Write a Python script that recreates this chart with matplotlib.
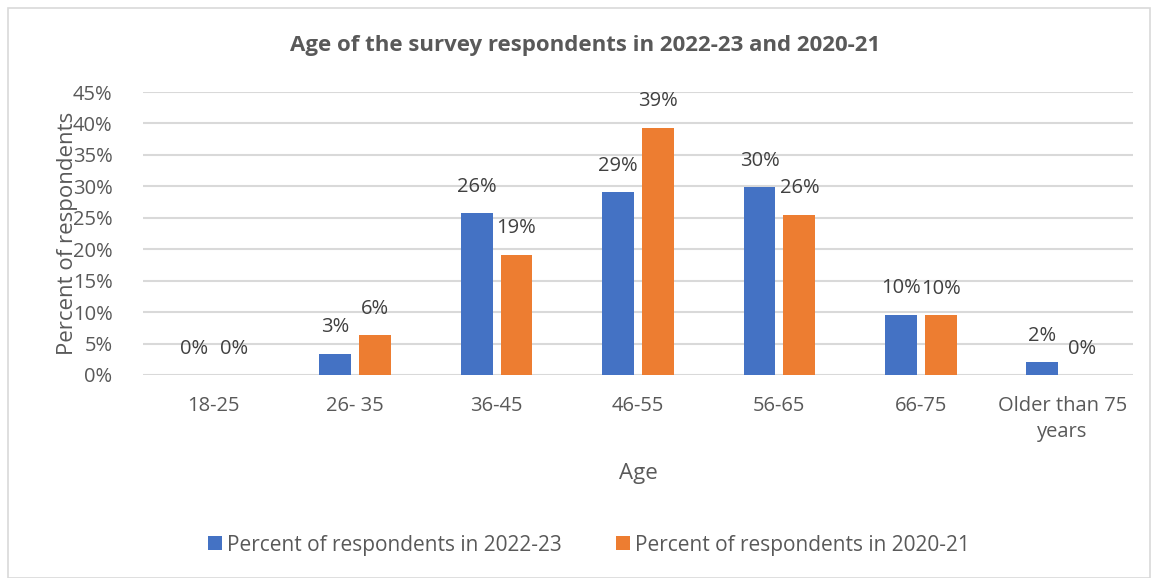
import matplotlib.pyplot as plt
import numpy as np
from matplotlib.patches import Rectangle

# Age groups and survey shares (fractions)
categories = ['18-25', '26- 35', '36-45', '46-55', '56-65', '66-75', 'Older than 75\nyears']
pct_2022 = [0.0, 0.034, 0.257, 0.291, 0.299, 0.096, 0.020]
pct_2020 = [0.0, 0.063, 0.191, 0.393, 0.255, 0.095, 0.0]
series_names = ['Percent of respondents in 2022-23', 'Percent of respondents in 2020-21']
yticks = [0, 0.05, 0.10, 0.15, 0.20, 0.25, 0.30, 0.35, 0.40, 0.45]

blue = '#4472C4'
orange = '#ED7D31'
text_col = '#595959'
label_col = '#404040'

plt.rcParams['font.family'] = ['Open Sans', 'DejaVu Sans']

fig = plt.figure(figsize=(11.61, 5.78), dpi=100)
fig.patches.append(Rectangle((8 / 1161, 0), 1142 / 1161, 570 / 578, transform=fig.transFigure,
                             fill=False, edgecolor='#d9d9d9', linewidth=1.2))

ax = fig.add_axes([143 / 1161, 1 - 375 / 578, 990 / 1161, 283 / 578])

x = np.arange(len(categories))
w = 0.226
off = 0.141
b1 = ax.bar(x - off, pct_2022, w, color=blue, label=series_names[0], zorder=3)
b2 = ax.bar(x + off, pct_2020, w, color=orange, label=series_names[1], zorder=3)

for bars, vals in [(b1, pct_2022), (b2, pct_2020)]:
    for bar, v in zip(bars, vals):
        ax.annotate(f'{v * 100:.0f}%', (bar.get_x() + bar.get_width() / 2, v),
                    xytext=(0, 19), textcoords='offset points', ha='center', va='center',
                    fontsize=14.5, color=label_col)

ax.set_xlim(-0.5, len(categories) - 0.5)
ax.set_ylim(0, 0.45)
ax.set_yticks(yticks)
ax.set_yticklabels([f'{t * 100:.0f}%' for t in yticks])
ax.set_xticks(x)
ax.set_xticklabels(categories, linespacing=1.4)
ax.tick_params(axis='both', length=0, labelsize=14.5, labelcolor=text_col)
ax.tick_params(axis='x', pad=15)
ax.tick_params(axis='y', pad=22)
ax.grid(axis='y', color='#d9d9d9', linewidth=1.5, zorder=0)
for s in ax.spines.values():
    s.set_visible(False)

ax.set_xlabel('Age', fontsize=16, color=text_col, labelpad=15)
ax.set_ylabel('Percent of respondents', fontsize=16, color=text_col)
ax.yaxis.set_label_coords(-0.066, 0.5)

fig.text(585 / 1161, 1 - 45 / 578, 'Age of the survey respondents in 2022-23 and 2020-21',
         ha='center', va='center', fontsize=16, fontweight='bold', color=text_col)

fig.legend(loc='center', bbox_to_anchor=(589 / 1161, 1 - 545 / 578), ncol=2, frameon=False,
           fontsize=15, labelcolor=text_col, handlelength=0.65, handleheight=0.65,
           handletextpad=0.25, columnspacing=2.6)

fig.savefig('out.png', dpi=100)
